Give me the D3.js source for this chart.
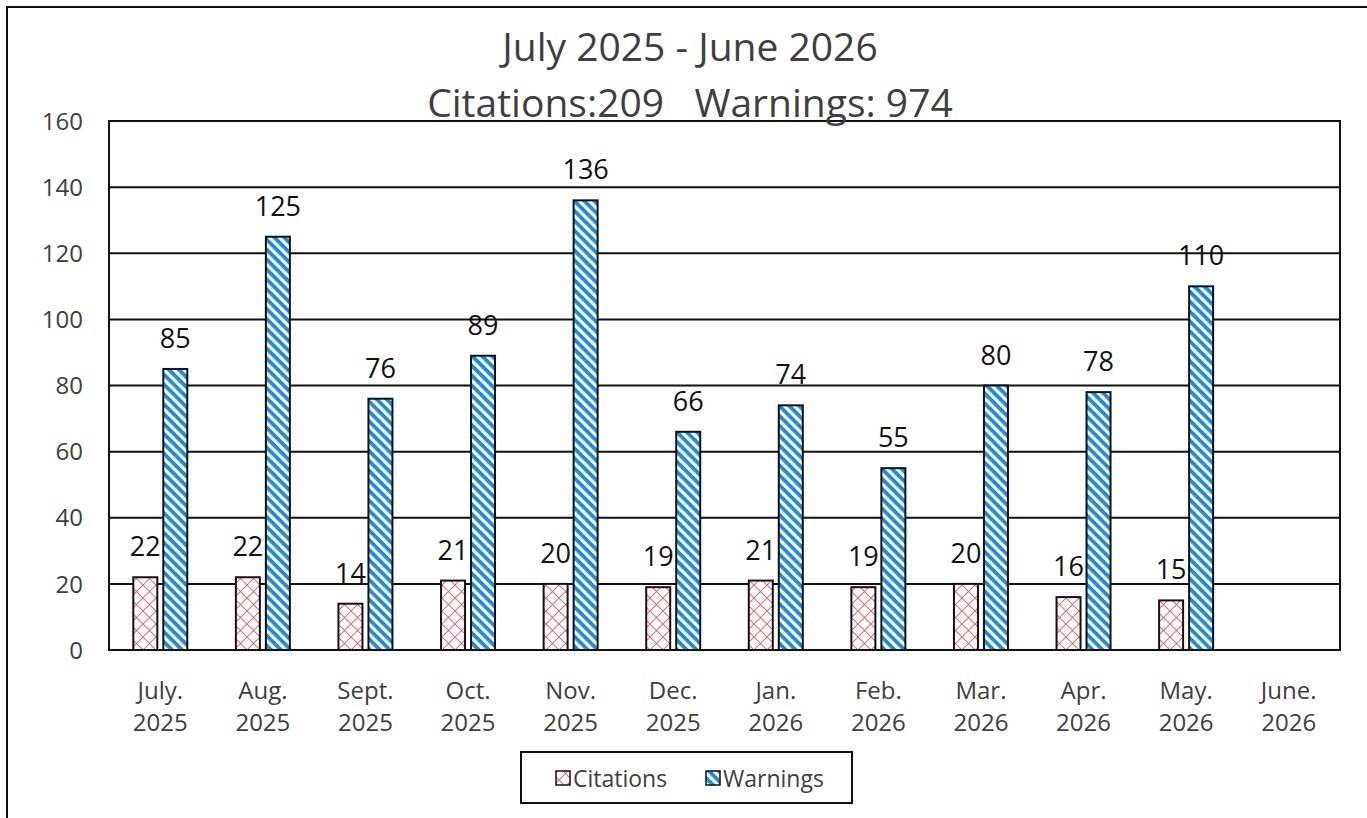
<!DOCTYPE html>
<html>
<head>
<meta charset="utf-8">
<script src="https://cdn.jsdelivr.net/npm/d3@7"></script>
<style>
  body { margin: 0; background: #fff; }
  text { font-family: "Open Sans", "Noto Sans", sans-serif; }
</style>
</head>
<body>
<script>
var months = ['July.', 'Aug.', 'Sept.', 'Oct.', 'Nov.', 'Dec.', 'Jan.', 'Feb.', 'Mar.', 'Apr.', 'May.', 'June.'];
var years = ['2025', '2025', '2025', '2025', '2025', '2025', '2026', '2026', '2026', '2026', '2026', '2026'];
var citations = [22, 22, 14, 21, 20, 19, 21, 19, 20, 16, 15, null];
var warnings = [85, 125, 76, 89, 136, 66, 74, 55, 80, 78, 110, null];
var yTicks = [0, 20, 40, 60, 80, 100, 120, 140, 160];
var titleLines = ['July 2025 - June 2026', 'Citations:209   Warnings: 974'];

var width = 1367, height = 818;
var svg = d3.select('body').append('svg')
    .attr('width', width).attr('height', height);

// patterns
var defs = svg.append('defs');
var cross = defs.append('pattern').attr('id', 'cross')
    .attr('patternUnits', 'userSpaceOnUse').attr('width', 13).attr('height', 13);
cross.append('rect').attr('width', 13).attr('height', 13).attr('fill', '#fff');
cross.append('path').attr('d', 'M0,0 L13,13 M13,0 L0,13')
    .attr('stroke', '#e27078').attr('stroke-width', 1.1);
var stripe = defs.append('pattern').attr('id', 'stripe')
    .attr('patternUnits', 'userSpaceOnUse').attr('width', 7).attr('height', 7)
    .attr('patternTransform', 'rotate(45)');
stripe.append('rect').attr('width', 7).attr('height', 7).attr('fill', '#fff');
stripe.append('rect').attr('width', 7).attr('height', 3.8).attr('fill', '#1f8bd8');

// outer frame
svg.append('rect').attr('x', 7).attr('y', 7).attr('width', width + 20).attr('height', height + 20)
    .attr('fill', 'none').attr('stroke', '#111').attr('stroke-width', 2);

var plot = { left: 109, top: 121, right: 1340, bottom: 650 };

var x = d3.scaleBand().domain(d3.range(months.length))
    .range([plot.left, plot.right]).paddingInner(0).paddingOuter(0);
var y = d3.scaleLinear().domain([0, 160]).range([plot.bottom, plot.top]);

var barW = 24, gap = 6;

// gridlines
svg.append('g').selectAll('line').data(yTicks).enter().append('line')
    .attr('x1', plot.left).attr('x2', plot.right)
    .attr('y1', function (d) { return y(d); }).attr('y2', function (d) { return y(d); })
    .attr('stroke', '#111').attr('stroke-width', 2);

// y axis labels
svg.append('g').selectAll('text').data(yTicks).enter().append('text')
    .attr('x', 83).attr('y', function (d) { return y(d); })
    .attr('dy', '0.36em').attr('text-anchor', 'end')
    .attr('font-size', 24).attr('fill', '#404040')
    .text(function (d) { return d; });

// bars
var series = [
    { values: citations, fill: 'url(#cross)', off: -(gap / 2 + barW) },
    { values: warnings, fill: 'url(#stripe)', off: gap / 2 }
];
series.forEach(function (s) {
    var g = svg.append('g');
    var data = s.values.map(function (v, i) { return { i: i, v: v }; })
        .filter(function (d) { return d.v !== null; });
    g.selectAll('rect').data(data).enter().append('rect')
        .attr('x', function (d) { return x(d.i) + x.bandwidth() / 2 + s.off; })
        .attr('y', function (d) { return y(d.v); })
        .attr('width', barW)
        .attr('height', function (d) { return y(0) - y(d.v); })
        .attr('fill', s.fill).attr('stroke', '#111').attr('stroke-width', 2);
    g.selectAll('text').data(data).enter().append('text')
        .attr('x', function (d) { return x(d.i) + x.bandwidth() / 2 + s.off + barW / 2; })
        .attr('y', function (d) { return y(d.v) - 21; })
        .attr('text-anchor', 'middle').attr('font-size', 27).attr('fill', '#111')
        .text(function (d) { return d.v; });
});

// plot border
svg.append('rect').attr('x', plot.left).attr('y', plot.top)
    .attr('width', plot.right - plot.left).attr('height', plot.bottom - plot.top)
    .attr('fill', 'none').attr('stroke', '#111').attr('stroke-width', 2);

// x labels
var xl = svg.append('g').selectAll('text').data(months).enter().append('text')
    .attr('x', function (d, i) { return x(i) + x.bandwidth() / 2; })
    .attr('text-anchor', 'middle').attr('font-size', 24).attr('fill', '#404040');
xl.append('tspan').attr('x', function (d, i) { return x(i) + x.bandwidth() / 2; })
    .attr('y', 699).text(function (d) { return d; });
xl.append('tspan').attr('x', function (d, i) { return x(i) + x.bandwidth() / 2; })
    .attr('y', 731).text(function (d, i) { return years[i]; });

// title
svg.append('g').selectAll('text').data(titleLines).enter().append('text')
    .attr('x', 690).attr('y', function (d, i) { return 61 + i * 56; })
    .attr('text-anchor', 'middle').attr('font-size', 39).attr('fill', '#404040')
    .attr('xml:space', 'preserve')
    .text(function (d) { return d; });

// legend
var lg = svg.append('g');
lg.append('rect').attr('x', 521).attr('y', 752).attr('width', 331).attr('height', 51)
    .attr('fill', '#fff').attr('stroke', '#111').attr('stroke-width', 2);
var legendItems = [
    { label: 'Citations', fill: 'url(#cross)', x: 556 },
    { label: 'Warnings', fill: 'url(#stripe)', x: 706 }
];
legendItems.forEach(function (d) {
    lg.append('rect').attr('x', d.x).attr('y', 771).attr('width', 14).attr('height', 14)
        .attr('fill', d.fill).attr('stroke', '#111').attr('stroke-width', 1.5);
    lg.append('text').attr('x', d.x + 17).attr('y', 787)
        .attr('font-size', 23).attr('fill', '#404040').text(d.label);
});
</script>
</body>
</html>
